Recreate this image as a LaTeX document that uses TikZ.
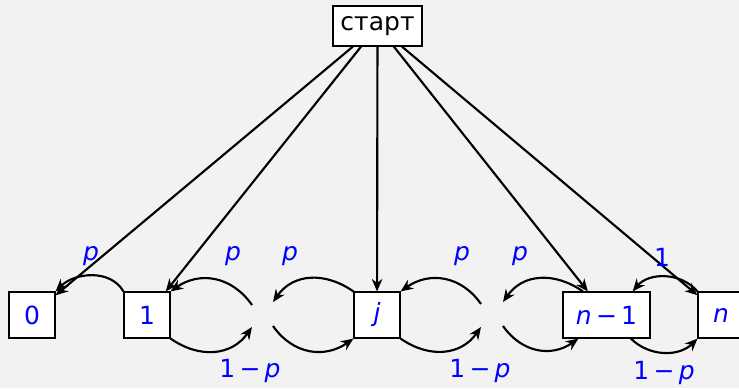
\documentclass[tikz,border=0pt]{standalone}
\usepackage{fontspec}
\setmainfont{DejaVu Sans}
\usetikzlibrary{arrows.meta}
\definecolor{bg}{RGB}{242,242,242}
\definecolor{lbl}{RGB}{0,0,255}
\newcommand\mvar[1]{\textit{#1}}
\newcommand\mminus{\kern.17em−\kern.17em}
\begin{document}
\begin{tikzpicture}[x=0.4pt,y=0.4pt,
  box/.style={draw=black, line width=0.45pt, fill=white, inner sep=0pt,
    minimum width=18.4pt, minimum height=18.4pt, text=lbl,
    font=\fontsize{10}{12}\selectfont},
  arr/.style={line width=0.85pt, -{Stealth[length=5pt,width=4.2pt]}},
  lab/.style={text=lbl, inner sep=0pt, font=\fontsize{10}{12}\selectfont}]
\fill[bg] (0,0) rectangle (739,388);
\useasboundingbox (0,0) rectangle (739,388);
\clip (0,0) rectangle (739,388);
% nodes
\node[box, minimum width=35.6pt, minimum height=16pt, text=black] (st) at (377.5,362) {старт};
\node[box] (s0) at (32,73) {0};
\node[box] (s1) at (147,73) {1};
\node[box] (sj) at (377,73) {\mvar{j}};
\node[box, minimum width=34.8pt] (sn1) at (606.5,73) {\mvar{n}\mminus 1};
\node[box] (sn) at (721,73) {\mvar{n}};
% gap ends
\coordinate (g1a) at (252,83);
\coordinate (g1b) at (252,61);
\coordinate (g2a) at (273,86);
\coordinate (g2b) at (273,62);
\coordinate (g3a) at (481,84);
\coordinate (g3b) at (481,61);
\coordinate (g4a) at (503,86);
\coordinate (g4b) at (503,62);
% start arrows
\draw[arr] (st) -- (s0);
\draw[arr] (st) -- (s1);
\draw[arr] (st) -- (sj);
\draw[arr] (st) -- (sn1);
\draw[arr] (st) -- (sn);
% arcs
\draw[arr] (s1.north west) to[out=120,in=45] (s0.north east);
\draw[arr] (g1a) to[out=125,in=35,looseness=1.1] (s1.north east);
\draw[arr] (s1.south east) to[out=-35,in=-125,looseness=1.1] (g1b);
\draw[arr] (sj.north west) to[out=145,in=55,looseness=1.1] (g2a);
\draw[arr] (g2b) to[out=-55,in=-145,looseness=1.1] (sj.south west);
\draw[arr] (g3a) to[out=125,in=35,looseness=1.1] (sj.north east);
\draw[arr] (sj.south east) to[out=-35,in=-125,looseness=1.1] (g3b);
\draw[arr] (sn1.135) to[out=145,in=55,looseness=1.1] (g4a);
\draw[arr] (g4b) to[out=-55,in=-145,looseness=1.1] (sn1.220);
\draw[arr] (sn.north west) to[out=130,in=50] (sn1.42);
\draw[arr] (sn1.316) to[out=-45,in=-135] (sn.south west);
% labels
\node[lab] (l0) at (91,132) {\mvar{p}};
\node[lab] (la) at (233,132) {\mvar{p}};
\node[lab] (lb) at (290,132) {\mvar{p}};
\node[lab] (lc) at (462,132) {\mvar{p}};
\node[lab] (ld) at (520,132) {\mvar{p}};
\node[lab] (le) at (662,131) {1};
\node[lab] (q1) at (250,17) {1\mminus\mvar{p}};
\node[lab] (q2) at (480,17) {1\mminus\mvar{p}};
\node[lab] (q3) at (664,15) {1\mminus\mvar{p}};
\end{tikzpicture}
\end{document}
